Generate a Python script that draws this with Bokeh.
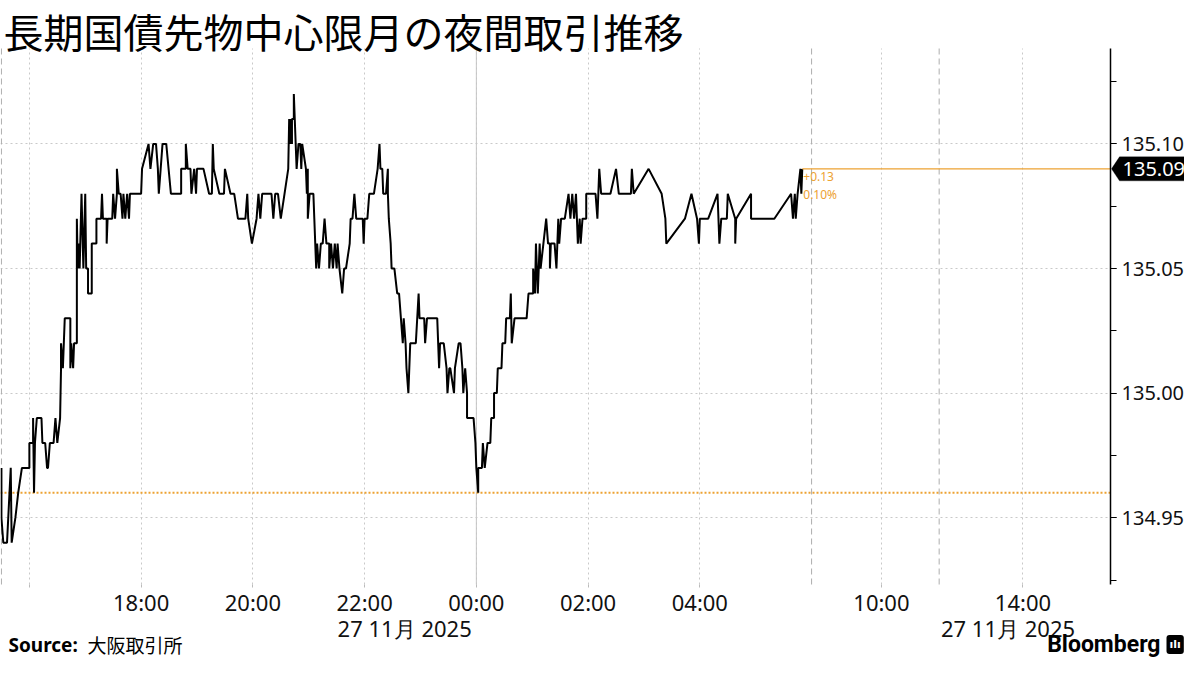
from bokeh.plotting import figure
from bokeh.models import (Range1d, FixedTicker, SingleIntervalTicker, Label, BoxAnnotation,
                          PolyAnnotation, NumeralTickFormatter)
from bokeh.embed import file_html
from bokeh.resources import INLINE

# ---------------- data ----------------
title_text = "長期国債先物中心限月の夜間取引推移"
source_label = "Source:"
source_text = "大阪取引所"
date_text = "27 11月 2025"
brand_text = "Bloomberg"

# minutes elapsed since the night session opened (15:30, 26 Nov)
minutes_since_open = [
    0, 0, 2, 6, 10, 11, 15, 18, 22, 30, 30, 34, 34, 35, 36, 38, 43, 44, 47, 49, 50, 52, 56, 58, 60,
    63, 64, 64, 66, 67, 68, 74, 74, 75, 77, 78, 81,
    81, 82, 83, 84, 86, 88, 90, 91, 93, 93, 97, 97, 102, 102, 107, 108, 109, 113, 113, 114, 119,
    120, 122, 124, 124, 126, 128, 130, 131, 133, 135, 137, 138, 150,
    151, 158, 160, 163, 166, 168, 169, 171, 173, 177, 182, 193, 193, 198, 198, 200, 203, 204, 207,
    209, 210, 217, 223, 226, 227, 228, 234, 239, 240, 246, 250, 254, 262, 264, 265, 269, 274, 276,
    278, 280, 290, 292, 294, 297, 300, 304, 308, 309, 310, 311, 312, 312, 314, 314, 315, 316, 317,
    319, 321, 322, 323, 327, 328, 329, 329, 331, 335, 336, 337, 338, 339, 341, 343, 345, 347, 349,
    352, 352, 354, 356, 358, 360, 361, 363, 366, 368, 370, 374, 375, 377, 379, 381, 388, 389, 390,
    393, 395, 400, 404, 406, 407, 409, 410, 413, 415, 415, 416, 418, 419, 422, 425, 427, 429, 431,
    432, 434, 435, 437, 439, 445, 448, 449, 454, 455, 457, 468, 470, 471, 475, 478, 479, 481, 482,
    486, 487, 491, 493, 495, 496, 498, 500, 500, 507, 509, 510, 512, 512, 516, 517, 519, 522, 525,
    526, 529, 529, 532, 533, 537, 538, 541, 542, 546, 547, 548, 551, 564, 566, 571, 571, 573, 574,
    576, 578, 579, 582, 585, 587, 589, 589, 590, 594, 596, 598, 599, 601, 605, 609, 611, 613, 615,
    617, 619, 621, 622, 624, 628, 628, 638, 640, 642, 644, 654, 660, 663, 676, 677, 679, 695, 709,
    713, 714, 734, 741, 747, 749, 750, 759, 769, 771, 773, 779, 780, 788, 788, 789, 805, 805, 830,
    848, 850, 852, 853, 855, 858, 859, 860,
]
price = [
    134.97, 134.95, 134.94, 134.94, 134.97, 134.94, 134.95, 134.96, 134.97, 134.97, 134.98, 134.98,
    134.99, 134.96, 134.98, 134.99, 134.99, 134.98, 134.98, 134.97, 134.97, 134.98, 134.98, 134.99,
    134.98, 134.99, 135.01, 135.02, 135.01, 135.02, 135.03, 135.03, 135.01, 135.02, 135.01, 135.02,
    135.02,
    135.07, 135.05, 135.06, 135.05, 135.08, 135.05, 135.08, 135.05, 135.05, 135.04, 135.04, 135.06,
    135.06, 135.07, 135.07, 135.08, 135.07, 135.07, 135.06, 135.07, 135.07, 135.08, 135.07, 135.08,
    135.09, 135.08, 135.08, 135.07, 135.08, 135.07, 135.08, 135.07, 135.08, 135.08,
    135.09, 135.10, 135.09, 135.10, 135.10, 135.09, 135.08, 135.09, 135.10, 135.10, 135.08, 135.08,
    135.09, 135.09, 135.10, 135.09, 135.09, 135.08, 135.09, 135.08, 135.09, 135.09, 135.08, 135.08,
    135.10, 135.09, 135.08, 135.08, 135.09, 135.08, 135.08, 135.07, 135.07, 135.08, 135.07, 135.06,
    135.07, 135.08, 135.07, 135.08, 135.08, 135.07, 135.08, 135.08, 135.07, 135.08, 135.09, 135.11,
    135.10, 135.11, 135.10, 135.11, 135.11, 135.12, 135.11, 135.10, 135.09, 135.10, 135.10, 135.09,
    135.10, 135.09, 135.08, 135.09, 135.07, 135.08, 135.08, 135.07, 135.06, 135.05, 135.06, 135.05,
    135.06, 135.06, 135.07, 135.06, 135.06, 135.05, 135.06, 135.05, 135.06, 135.05, 135.06, 135.05,
    135.04, 135.05, 135.05, 135.06, 135.07, 135.07, 135.08, 135.07, 135.07, 135.06, 135.07, 135.07,
    135.08, 135.08, 135.09, 135.10, 135.09, 135.09, 135.08, 135.08, 135.09, 135.08, 135.07, 135.06,
    135.05, 135.05, 135.04, 135.04, 135.03, 135.02, 135.03, 135.02, 135.01, 135.00, 135.02, 135.02,
    135.04, 135.03, 135.03, 135.02, 135.03, 135.03, 135.01, 135.02, 135.02, 135.01, 135.00, 135.01,
    135.01, 135.00, 135.01, 135.02, 135.02, 135.01, 135.00, 135.01, 135.00, 134.99, 134.99, 134.98,
    134.97, 134.96, 134.97, 134.97, 134.98, 134.97, 134.98, 134.98, 134.99, 134.99, 135.00, 135.00,
    135.01, 135.01, 135.02, 135.02, 135.03, 135.03, 135.04, 135.02, 135.03, 135.03, 135.04, 135.04,
    135.05, 135.04, 135.06, 135.04, 135.06, 135.05, 135.06, 135.07, 135.06, 135.06, 135.05, 135.06,
    135.06, 135.05, 135.07, 135.06, 135.07, 135.07, 135.08, 135.07, 135.08, 135.07, 135.08, 135.06,
    135.07, 135.06, 135.07, 135.07, 135.08, 135.08, 135.07, 135.09, 135.08, 135.08, 135.09, 135.08,
    135.08, 135.09, 135.08, 135.09, 135.08, 135.07, 135.06, 135.07, 135.08, 135.07, 135.06, 135.07,
    135.07, 135.08, 135.06, 135.07, 135.07, 135.08, 135.07, 135.06, 135.07, 135.08, 135.07, 135.07,
    135.08, 135.07, 135.08, 135.07, 135.08, 135.09, 135.08, 135.09,
]

prev_close = 134.96

tick_clock = ["16:00", "18:00", "20:00", "22:00", "00:00", "02:00", "04:00", "10:00", "14:00"]
tick_labels = ["", "18:00", "20:00", "22:00", "00:00", "02:00", "04:00", "10:00", "14:00"]
session_break_clock = ["15:30", "06:00", "11:02"]
midnight_clock = "00:00"
date_anchor_clock = ["22:00", "14:00"]


def session_minutes(hhmm):
    """Trading-time axis: night session 15:30-06:00, then day session 08:45-11:02, 12:30-15:02."""
    h, m = map(int, hhmm.split(":"))
    t = h * 60 + m
    open_night = 15 * 60 + 30
    if t >= open_night:
        return t - open_night
    if t <= 6 * 60:
        return t + 24 * 60 - open_night
    night_len = 24 * 60 - open_night + 6 * 60
    if t <= 11 * 60 + 2:
        return night_len + t - (8 * 60 + 45)
    return night_len + (11 * 60 + 2 - (8 * 60 + 45)) + t - (12 * 60 + 30)


# ---------------- layout ----------------
W, H = 1184, 659
PLOT_L, PLOT_R, PLOT_T, PLOT_B = 0, 1110, 48, 584      # plotting area inside the canvas (px)
X0, X_AXIS = -1, 1191                                   # time span of the plotting area
Y0, Y1 = 134.9232, 135.1383                             # price span of the plotting area
MPP = (X_AXIS - X0) / (PLOT_R - PLOT_L)                 # minutes per pixel
PPP = (Y1 - Y0) / (PLOT_B - PLOT_T)                     # price per pixel


def cx(px):
    return X0 + (px - PLOT_L) * MPP


def cy(py):
    return Y1 - (py - PLOT_T) * PPP


ORANGE = "#eda232"
GRID = "#c9c9c9"
FONT = "Noto Sans"
CJK = "Noto Sans CJK JP"

p = figure(width=W, height=H, output_backend="svg", toolbar_location=None,
           title=None, y_axis_location="right", x_axis_location="below",
           x_range=Range1d(cx(0), cx(W)), y_range=Range1d(cy(H), cy(0)),
           min_border=0, min_border_left=0, min_border_right=0,
           min_border_top=0, min_border_bottom=0)
p.outline_line_color = None
p.background_fill_color = "white"
p.border_fill_color = "white"

tick_pos = [session_minutes(t) for t in tick_clock]

# x axis, drawn along the bottom of the plotting area
xa = p.xaxis[0]
xa.fixed_location = Y0
xa.ticker = FixedTicker(ticks=tick_pos)
xa.major_label_overrides = {pos: lab for pos, lab in zip(tick_pos, tick_labels)}
xa.axis_line_color = None
xa.major_tick_line_color = "#bbbbbb"
xa.major_tick_out = 3
xa.major_tick_in = 0
xa.minor_tick_line_color = None
xa.major_label_standoff = -1
xa.major_label_text_font = FONT
xa.major_label_text_font_size = "22px"
xa.major_label_text_color = "#111111"

# y axis, drawn at the right edge of the plotting area
ya = p.yaxis[0]
ya.fixed_location = X_AXIS
ya.bounds = (Y0, Y1)
ya.ticker = SingleIntervalTicker(interval=0.05, num_minor_ticks=2)
ya.formatter = NumeralTickFormatter(format="0.00")
ya.axis_line_color = "black"
ya.axis_line_width = 1.5
ya.major_tick_line_color = "black"
ya.major_tick_out = 6
ya.major_tick_in = 0
ya.minor_tick_line_color = "black"
ya.minor_tick_out = 6
ya.minor_tick_in = 0
ya.major_label_standoff = 5
ya.major_label_text_font = FONT
ya.major_label_text_font_size = "20px"
ya.major_label_text_color = "#111111"

# grids
p.xgrid.ticker = FixedTicker(ticks=tick_pos)
for g in (p.xgrid, p.ygrid):
    g.grid_line_color = GRID
    g.grid_line_dash = "2 3"
bounded = True
try:
    p.xgrid.cross_bounds = (Y0, Y1)
    p.ygrid.cross_bounds = (X0, X_AXIS)
except Exception:
    bounded = False
if not bounded:
    for kw in (dict(top=cy(0), bottom=cy(PLOT_T)), dict(top=cy(PLOT_B), bottom=cy(H)),
               dict(left=cx(PLOT_R))):
        p.add_layout(BoxAnnotation(fill_color="white", fill_alpha=1, line_color=None,
                                   level="glyph", **kw))

# session separators and midnight line
brk = [session_minutes(c) for c in session_break_clock]
p.segment(x0=brk, y0=[Y0] * len(brk), x1=brk, y1=[Y1] * len(brk),
          line_color="#adadad", line_dash="6 4", line_width=1)
mid = session_minutes(midnight_clock)
p.segment(x0=[mid], y0=[Y0], x1=[mid], y1=[Y1], line_color="#c4c4c4", line_width=1)

# previous close
p.line([X0, X_AXIS], [prev_close, prev_close], line_color=ORANGE, line_dash="2 2", line_width=2)

# price line
p.line(minutes_since_open, price, line_color="black", line_width=2)

last_t = minutes_since_open[-1]
last_p = price[-1]
p.line([last_t, X_AXIS], [last_p, last_p], line_color=ORANGE, line_width=1.2)

chg = last_p - prev_close
pct = abs(chg) / prev_close * 100
for txt, dy in ((f"{chg:+.2f}", -3), (f"{pct:.2f}%", -17)):
    p.add_layout(Label(x=last_t, y=last_p, x_offset=1, y_offset=dy, text=txt,
                       text_color=ORANGE, text_font=FONT, text_font_size="12px",
                       text_baseline="top", text_align="left"))

# last-price tag on the axis
tag_h = 12
p.add_layout(PolyAnnotation(
    xs=[X_AXIS + 1 * MPP, X_AXIS + 9 * MPP, X_AXIS + 74 * MPP, X_AXIS + 74 * MPP, X_AXIS + 9 * MPP],
    ys=[last_p, last_p + tag_h * PPP, last_p + tag_h * PPP, last_p - tag_h * PPP, last_p - tag_h * PPP],
    fill_color="black", fill_alpha=1, line_color="black"))
p.add_layout(Label(x=X_AXIS, y=last_p, x_offset=12, text=f"{last_p:.2f}", text_color="white",
                   text_font=FONT, text_font_size="20px", text_baseline="middle",
                   text_align="left"))

# title
p.add_layout(Label(x=cx(3), y=cy(30), text=title_text, text_font=CJK, text_font_size="40px",
                   text_color="black", text_baseline="middle", text_align="left"))

# date lines under the time axis
for c, dx in zip(date_anchor_clock, (-27, -82)):
    p.add_layout(Label(x=session_minutes(c), y=cy(627), x_offset=dx, text=date_text,
                       text_font=FONT, text_font_size="22px", text_color="#111111",
                       text_baseline="middle", text_align="left"))

# footer
FOOT_Y = 644
p.add_layout(Label(x=cx(8), y=cy(FOOT_Y), text=source_label,
                   text_font=FONT, text_font_style="bold", text_font_size="19px",
                   text_color="black", text_baseline="middle", text_align="left"))
p.add_layout(Label(x=cx(87), y=cy(FOOT_Y), text=source_text,
                   text_font=CJK, text_font_size="19px",
                   text_color="black", text_baseline="middle", text_align="left"))
p.add_layout(Label(x=cx(1160), y=cy(FOOT_Y), text=brand_text,
                   text_font="Roboto", text_font_style="bold", text_font_size="23px",
                   text_color="black", text_baseline="middle", text_align="right"))
p.add_layout(Label(x=cx(1166), y=cy(FOOT_Y), text="ılı",
                   text_font="DejaVu Sans", text_font_style="bold", text_font_size="11px",
                   text_color="white", text_baseline="middle", text_align="left",
                   background_fill_color="black", padding=3, border_radius=3))

open("out.html", "w").write(file_html(p, INLINE))
